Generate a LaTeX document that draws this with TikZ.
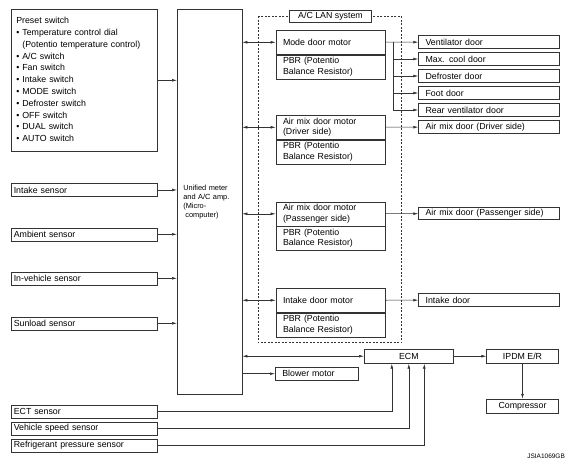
\documentclass[tikz,border=0pt]{standalone}
\usepackage{fontspec}
\setmainfont{Liberation Sans}
\usetikzlibrary{positioning,arrows.meta}

\definecolor{wire}{gray}{0.2}

\tikzstyle{switches} = [rectangle, draw=wire, anchor=north west, text width=136pt, inner xsep=5pt, minimum height=142pt, align=left, font=\fontsize{8.8}{11.8}\selectfont]
\tikzstyle{amp} = [rectangle, draw=wire, anchor=north west, text width=52.7pt, inner xsep=6pt, minimum height=385pt, align=left, font=\fontsize{7.4}{9}\selectfont]
\tikzstyle{sensor} = [rectangle, draw=wire, anchor=west, text width=141pt, inner xsep=2.5pt, inner ysep=0pt, minimum height=13pt, align=left]
\tikzstyle{motor} = [rectangle, draw=wire, text width=95.3pt, inner xsep=7pt, inner ysep=0pt, minimum height=24pt, align=left]
\tikzstyle{door} = [rectangle, draw=wire, text width=126.7pt, inner xsep=7pt, inner ysep=0pt, minimum height=12.5pt, align=left, node distance=17pt]
\tikzstyle{unit} = [rectangle, draw=wire, inner sep=0pt, minimum height=14.3pt, align=center]
\tikzstyle{lan} = [draw=wire, dash pattern=on 2pt off 1.5pt]
\tikzstyle{line} = [draw=wire]
\tikzstyle{arrow} = [-{Latex[length=5pt,width=2.8pt]}, draw=wire]
\tikzstyle{link} = [{Latex[length=5pt,width=2.8pt]}-{Latex[length=5pt,width=2.8pt]}, draw=wire]

\begin{document}
\begin{tikzpicture}[x=1pt, y=-1pt, line width=0.6pt, font=\fontsize{8.8}{10.5}\selectfont]

\useasboundingbox (0,0) rectangle (578,464);

	%Switches, sensors and the amplifier
	\node[switches](preset) at (11,9) {%
		\begin{tabular}{@{}l@{\hspace{3pt}}l@{}}
		\multicolumn{2}{@{}l@{}}{Preset switch}\\
		\textbullet & Temperature control dial\\
		 & (Potentio temperature control)\\
		\textbullet & A/C switch\\
		\textbullet & Fan switch\\
		\textbullet & Intake switch\\
		\textbullet & MODE switch\\
		\textbullet & Defroster switch\\
		\textbullet & OFF switch\\
		\textbullet & DUAL switch\\
		\textbullet & AUTO switch\\
		\end{tabular}};
	\node[amp](amp) at (177,9) {Unified meter\\and A/C amp.\\(Micro-\\\hspace{2pt}computer)};
	\node[sensor](intakeSensor) at (11,190) {Intake sensor};
	\node[sensor](ambientSensor) at (11,234.3) {Ambient sensor};
	\node[sensor](inVehSensor) at (11,278.3) {In-vehicle sensor};
	\node[sensor](sunloadSensor) at (11,323.3) {Sunload sensor};
	\node[sensor](ectSensor) at (11,411.3) {ECT sensor};
	\node[sensor](speedSensor) at (11,428.3) {Vehicle speed sensor};
	\node[sensor](refSensor) at (11,445.3) {Refrigerant pressure sensor};

	%A/C LAN system frame
	\path[lan] (258.3,16.3) rectangle (401.7,342.7);
	\node[unit, fill=white, minimum width=82.4pt, minimum height=12.7pt](lanLabel) at (330.5,16.3) {A/C LAN system};

	%Door motors with their PBR
	\node[motor, anchor=north west](modeMotor) at (275.7,30) {Mode door motor};
	\node[motor, below=0pt of modeMotor](modePBR) {PBR (Potentio\\Balance Resistor)};
	\node[motor, anchor=north west](driverMotor) at (275.7,115) {Air mix door motor\\(Driver side)};
	\node[motor, below=0pt of driverMotor](driverPBR) {PBR (Potentio\\Balance Resistor)};
	\node[motor, anchor=north west](passengerMotor) at (275.7,201.5) {Air mix door motor\\(Passenger side)};
	\node[motor, below=0pt of passengerMotor](passengerPBR) {PBR (Potentio\\Balance Resistor)};
	\node[motor, anchor=north west](intakeMotor) at (275.7,288) {Intake door motor};
	\node[motor, below=0pt of intakeMotor](intakePBR) {PBR (Potentio\\Balance Resistor)};

	%Doors
	\node[door, anchor=west](ventDoor) at (418.3,42) {Ventilator door};
	\node[door, below of=ventDoor](maxCoolDoor) {Max. cool door};
	\node[door, below of=maxCoolDoor](defrosterDoor) {Defroster door};
	\node[door, below of=defrosterDoor](footDoor) {Foot door};
	\node[door, below of=footDoor](rearVentDoor) {Rear ventilator door};
	\node[door, below of=rearVentDoor](driverDoor) {Air mix door (Driver side)};
	\node[door, anchor=west](passengerDoor) at (418.3,213.5) {Air mix door (Passenger side)};
	\node[door, anchor=west](intakeDoor) at (418.3,300) {Intake door};

	%ECM side
	\node[unit, minimum width=89pt](ecm) at (408.8,356.2) {ECM};
	\node[door, anchor=west, text width=69.3pt](blower) at (275,373.7) {Blower motor};
	\node[unit, minimum width=71.6pt](ipdm) at (522.5,356.2) {IPDM E/R};
	\node[unit, minimum width=71.6pt](compressor) at (522.5,406.2) {Compressor};

	\node[anchor=east, font=\fontsize{6.5}{7}\selectfont](figCode) at (568.5,456.7) {JSIA1069GB};

	%Inputs into the amplifier
	\path[arrow] (preset) -- (preset -| amp.west);
	\path[arrow] (intakeSensor) -- (intakeSensor -| amp.west);
	\path[arrow] (ambientSensor) -- (ambientSensor -| amp.west);
	\path[arrow] (inVehSensor) -- (inVehSensor -| amp.west);
	\path[arrow] (sunloadSensor) -- (sunloadSensor -| amp.west);

	%Amplifier to motors
	\path[link] (modeMotor -| amp.east) -- (modeMotor);
	\path[link] (driverMotor -| amp.east) -- (driverMotor);
	\path[link] (passengerMotor -| amp.east) -- (passengerMotor);
	\path[link] (intakeMotor -| amp.east) -- (intakeMotor);
	\path[link] (ecm -| amp.east) -- (ecm);
	\path[arrow] (blower -| amp.east) -- (blower);

	%Motors to doors
	\coordinate (modeJoin) at (393.3,42);
	\path[arrow] (modeMotor) -- (ventDoor);
	\path[line] (modeJoin) -- (modeJoin |- rearVentDoor);
	\path[arrow] (modeJoin |- maxCoolDoor) -- (maxCoolDoor);
	\path[arrow] (modeJoin |- defrosterDoor) -- (defrosterDoor);
	\path[arrow] (modeJoin |- footDoor) -- (footDoor);
	\path[arrow] (modeJoin |- rearVentDoor) -- (rearVentDoor);
	\path[arrow] (driverMotor) -- (driverDoor);
	\path[arrow] (passengerMotor) -- (passengerDoor);
	\path[arrow] (intakeMotor) -- (intakeDoor);

	%ECM connections
	\path[arrow] (ecm) -- (ipdm);
	\path[arrow] (ipdm) -- (compressor);
	\path[arrow] (ectSensor) -| ([xshift=-17pt]ecm.south);
	\path[arrow] (speedSensor) -| (ecm.south);
	\path[arrow] (refSensor) -| ([xshift=15.5pt]ecm.south);
\end{tikzpicture}
\end{document}
